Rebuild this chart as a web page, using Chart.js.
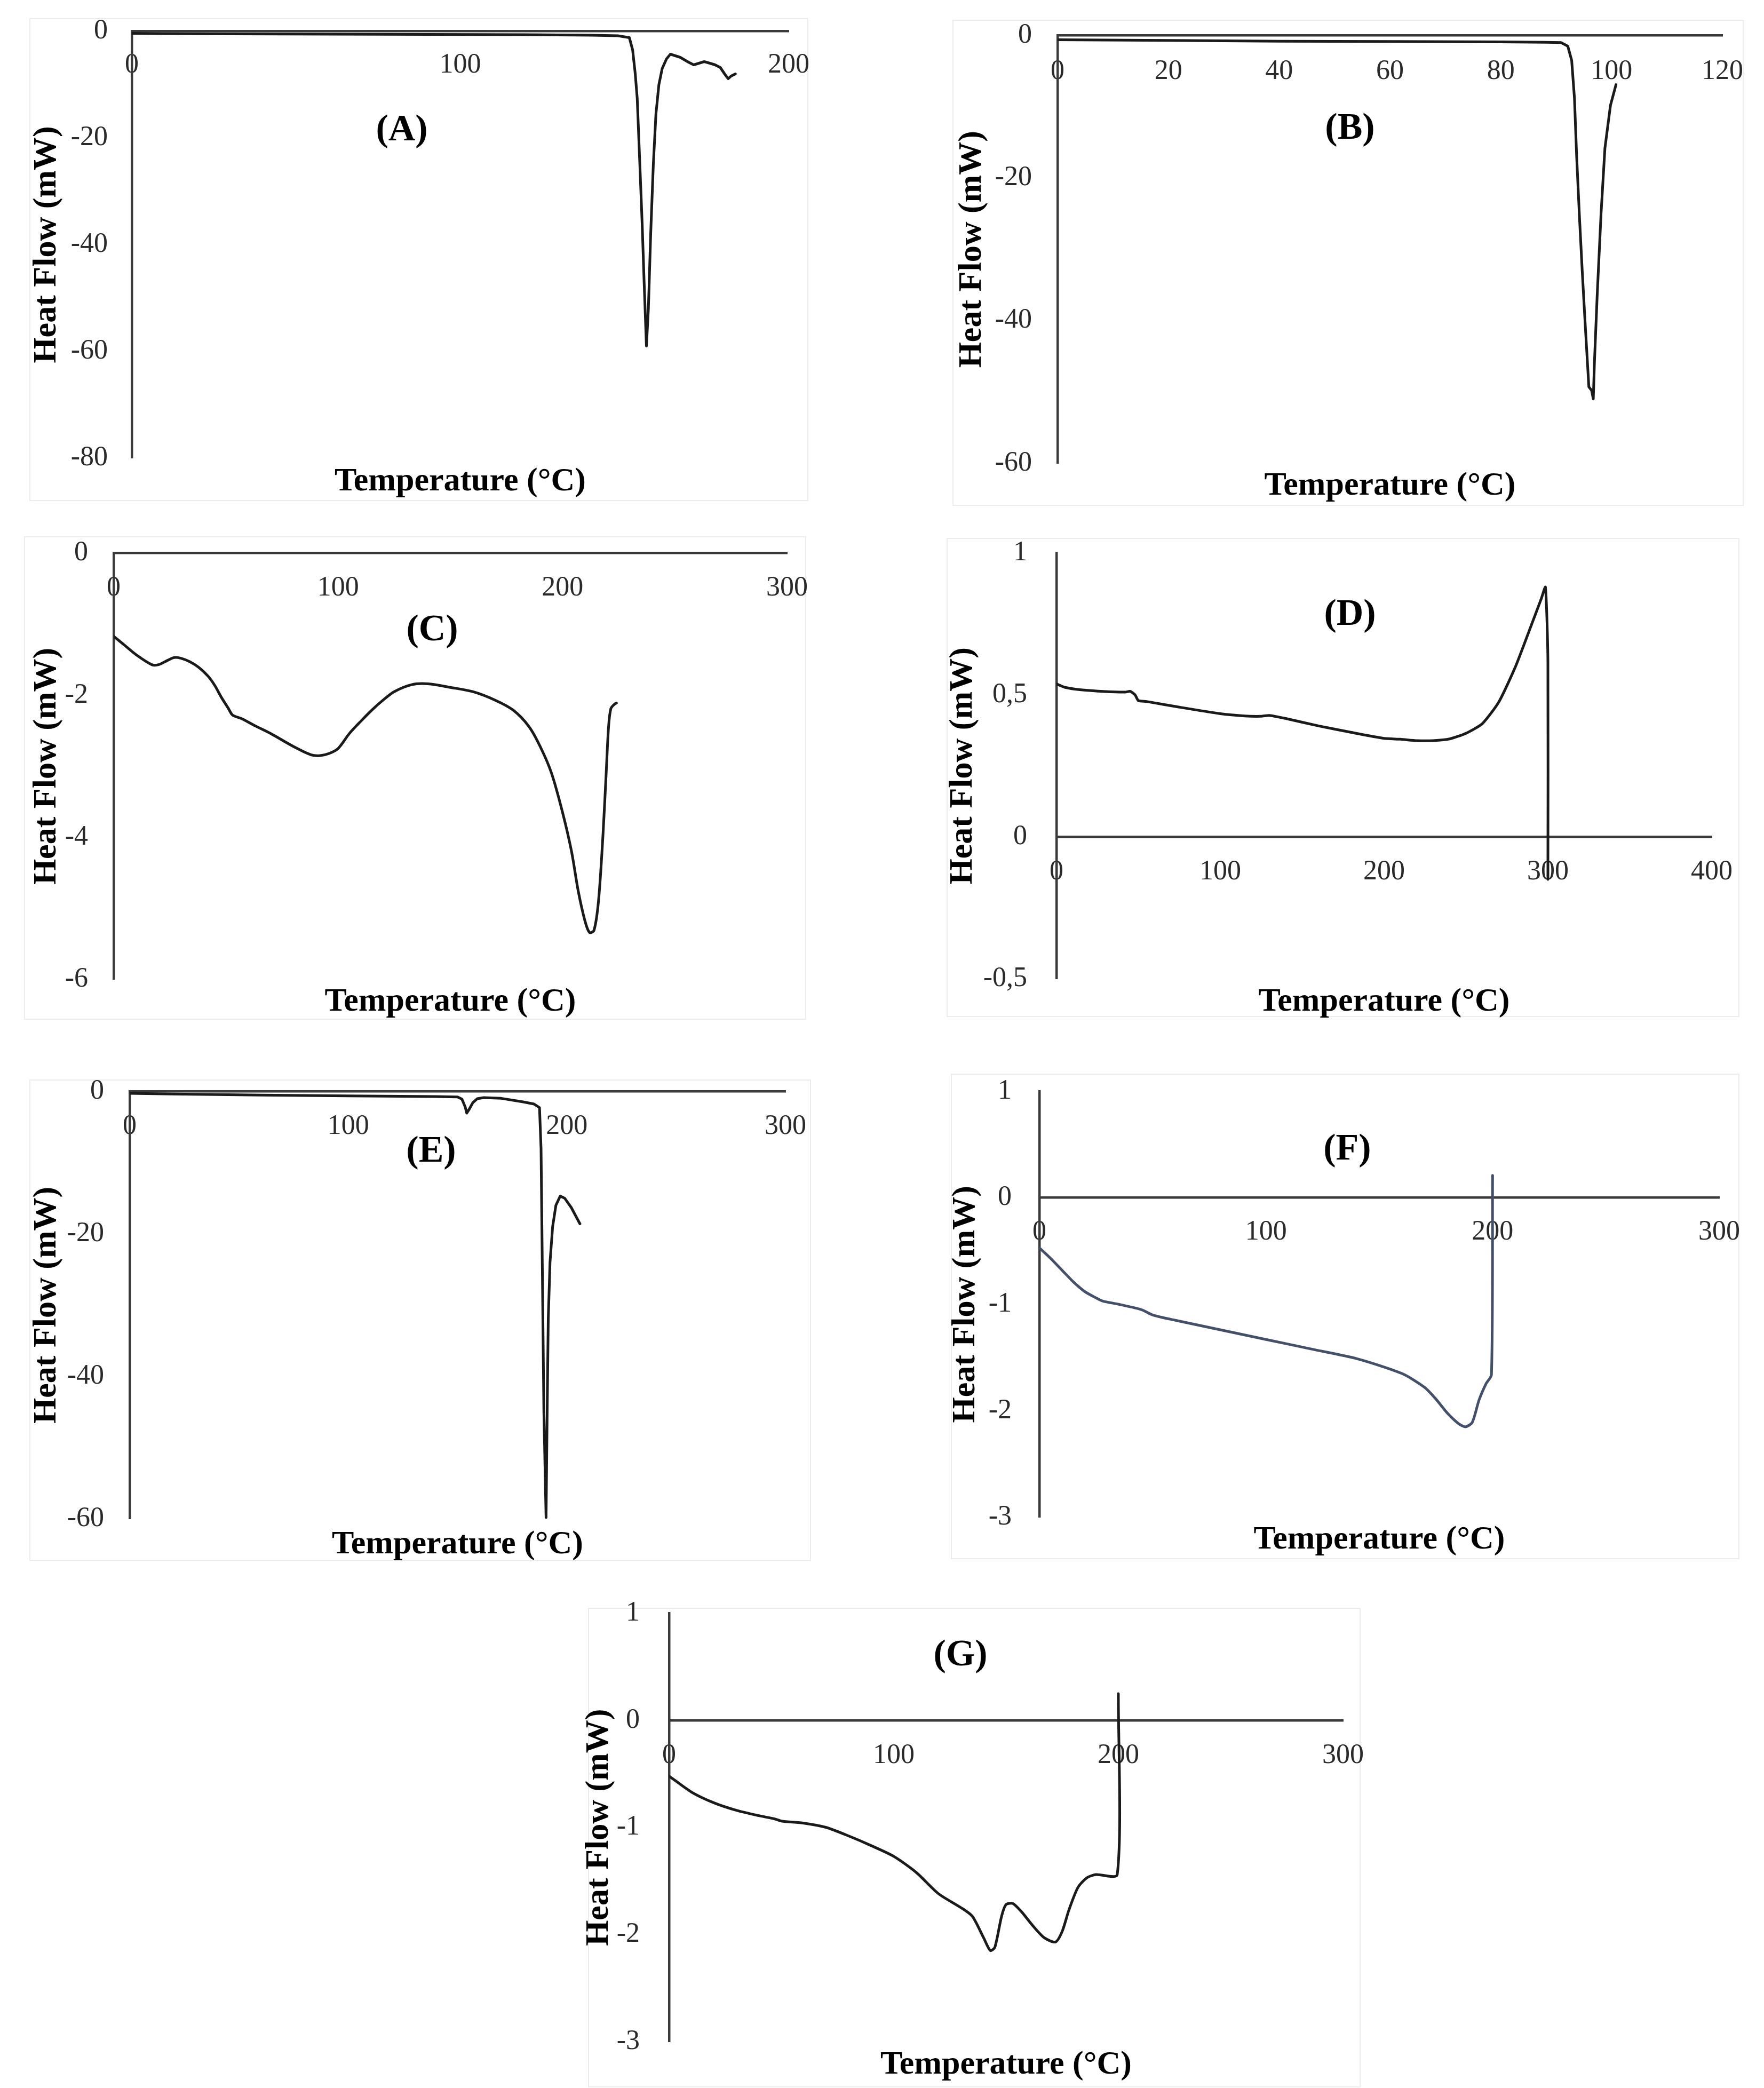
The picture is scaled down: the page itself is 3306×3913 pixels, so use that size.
<!DOCTYPE html>
<html><head><meta charset="utf-8">
<script src="https://cdn.jsdelivr.net/npm/chart.js@4.4.0/dist/chart.umd.min.js"></script>
<style>
html,body{margin:0;padding:0;background:#fff;width:3306px;height:3913px;overflow:hidden;position:relative;}
.box{position:absolute;border:2px solid #ececec;box-sizing:border-box;}
canvas{position:absolute;}
.lab{position:absolute;font-family:"Liberation Serif",serif;font-weight:bold;font-size:70px;line-height:1;transform:translate(-50%,-50%);white-space:nowrap;color:#000;}
</style></head><body>
<script>
// ---------- DATA (Temperature °C / Heat Flow mW) ----------
const tempA = [0, 10, 30, 60, 90, 120, 140, 148, 151.5, 152.5, 153.3, 153.9, 154.7, 155.4, 156, 156.7, 157.3, 158, 158.8, 159.6, 160.5, 161.5, 162.8, 164, 167, 169.5, 171.1, 172.7, 174.3, 176, 177.6, 179.2, 180.5, 181.6, 182.5, 183.8];
const heatA = [-0.4, -0.45, -0.5, -0.55, -0.6, -0.65, -0.75, -0.85, -1.2, -3.5, -8, -12.6, -25, -36, -47, -59, -52, -38, -25, -15.5, -10, -7, -5.2, -4.3, -4.9, -5.8, -6.3, -6.0, -5.7, -6.0, -6.3, -6.8, -8.0, -8.9, -8.4, -8.0];

const tempB = [0, 20, 40, 60, 80, 88, 90.9, 92.1, 92.8, 93.3, 93.7, 94.2, 94.7, 95.2, 95.9, 96.4, 96.7, 96.9, 97.4, 98.1, 98.8, 99.8, 100.8];
const heatB = [-0.6, -0.7, -0.8, -0.85, -0.9, -0.95, -1.0, -1.5, -3.5, -8.8, -17, -25.4, -33, -40, -49.3, -49.8, -51, -46, -36.5, -25, -15.8, -9.8, -6.9];

const tempC = [0, 5, 10, 17, 20, 24, 27, 30, 34, 38, 42, 45, 48, 51, 53, 57, 63, 70, 80, 88, 92, 96, 100, 105, 110, 115, 120, 125, 133, 140, 150, 160, 170, 178, 185, 190, 195, 200, 204, 207, 210, 212, 214, 216, 218, 219.5, 220.5, 221.5, 223, 224];
const heatC = [-1.17, -1.3, -1.43, -1.57, -1.57, -1.51, -1.47, -1.48, -1.53, -1.61, -1.73, -1.86, -2.03, -2.18, -2.28, -2.33, -2.43, -2.54, -2.72, -2.84, -2.85, -2.82, -2.75, -2.54, -2.37, -2.21, -2.07, -1.95, -1.85, -1.84, -1.89, -1.95, -2.07, -2.21, -2.44, -2.72, -3.09, -3.65, -4.2, -4.76, -5.18, -5.34, -5.31, -4.9, -3.97, -3.05, -2.44, -2.19, -2.13, -2.11];

const tempD = [0, 5, 15, 30, 42, 45, 48, 50, 55, 75, 100, 115, 125, 130, 140, 160, 180, 200, 210, 220, 230, 240, 250, 260, 270, 280, 290, 296, 298.5, 300, 300];
const heatD = [0.539, 0.527, 0.518, 0.512, 0.51, 0.513, 0.5, 0.48, 0.477, 0.457, 0.434, 0.426, 0.425, 0.428, 0.417, 0.391, 0.368, 0.347, 0.344, 0.339, 0.339, 0.345, 0.365, 0.399, 0.475, 0.597, 0.748, 0.84, 0.88, 0.62, -0.15];

const tempE = [0, 20, 60, 100, 140, 150, 152, 153.5, 154.2, 155.2, 157, 159, 162, 170, 180, 185, 187.5, 188.2, 188.8, 189.5, 190.5, 191, 191.5, 192.3, 193.5, 195, 197, 199, 202, 206];
const heatE = [-0.3, -0.4, -0.55, -0.65, -0.75, -0.8, -1.1, -2.2, -3.07, -2.6, -1.6, -1.05, -0.9, -1.0, -1.5, -1.8, -2.3, -8, -25, -45, -59.8, -45, -32, -24, -19, -16, -14.7, -15, -16.3, -18.6];

const tempF = [0, 5, 10, 15, 20, 25, 28, 35, 45, 50, 60, 80, 100, 120, 140, 160, 170, 175, 180, 185, 188, 191, 194, 197, 199.5, 200];
const heatF = [-0.47, -0.57, -0.68, -0.79, -0.88, -0.94, -0.97, -1.0, -1.05, -1.1, -1.15, -1.24, -1.33, -1.42, -1.51, -1.65, -1.78, -1.89, -2.02, -2.12, -2.15, -2.11, -1.9, -1.75, -1.66, 0.21];

const tempG = [0, 10, 20, 30, 40, 47, 50, 60, 70, 80, 90, 100, 110, 120, 130, 135, 140, 143, 145, 148, 150, 153, 157, 162, 167, 172, 175, 178, 182, 186, 190, 199.5, 200];
const heatG = [-0.52, -0.67, -0.77, -0.84, -0.89, -0.92, -0.94, -0.96, -1.0, -1.08, -1.17, -1.27, -1.42, -1.62, -1.75, -1.83, -2.03, -2.15, -2.12, -1.83, -1.72, -1.71, -1.79, -1.92, -2.03, -2.07, -1.97, -1.77, -1.56, -1.47, -1.44, -1.44, 0.25];

// axis ranges / tick steps
const xRanges = {A:[0,200,100], B:[0,120,20], C:[0,300,100], D:[0,400,100], E:[0,300,100], F:[0,300,100], G:[0,300,100]};
const yRanges = {A:[-80,0,20], B:[-60,0,20], C:[-6,0,2], D:[-0.5,1,0.5], E:[-60,0,20], F:[-3,1,1], G:[-3,1,1]};
const panelLabels = ['(A)','(B)','(C)','(D)','(E)','(F)','(G)'];
const xTitle = 'Temperature (°C)';
const yTitle = 'Heat Flow (mW)';

// ---------- LAYOUT (page pixels) ----------
const layouts = {
  A:{box:[55,34,1515,939],   plot:[247,1478,58.5,858.5],   yTitleX:88,   xTitleY:903,  lab:[753,240],   yPad:45, xPad:33, color:'#1a1a1a', tension:0},
  B:{box:[1785,37,3268,948], plot:[1982,3228,66.5,868],    yTitleX:1822, xTitleY:911,  lab:[2530,237],  yPad:48, xPad:37, color:'#1a1a1a', tension:0},
  C:{box:[45,1005,1511,1911],plot:[213,1475,1036.6,1835.4],yTitleX:88,   xTitleY:1878, lab:[810,1177],  yPad:48, xPad:35, color:'#1a1a1a', tension:0.3},
  D:{box:[1774,1008,3260,1906],plot:[1980,3208,1036.6,1834],yTitleX:1805,xTitleY:1878, lab:[2530,1148], yPad:55, xPad:35, color:'#1a1a1a', tension:0.2},
  E:{box:[55,2023,1520,2925],plot:[243,1472,2045,2846.7],  yTitleX:88,   xTitleY:2895, lab:[808,2154],  yPad:48, xPad:35, color:'#1a1a1a', tension:0},
  F:{box:[1782,2012,3260,2922],plot:[1948,3222,2045,2843.6],yTitleX:1810,xTitleY:2886, lab:[2525,2150], yPad:52, xPad:33, color:'#44506a', tension:0.25},
  G:{box:[1102,3013,2550,3912],plot:[1254,2517,3023.5,3826],yTitleX:1123,xTitleY:3870, lab:[1800,3098], yPad:55, xPad:35, color:'#1a1a1a', tension:0.25}
};
const series = {A:[tempA,heatA], B:[tempB,heatB], C:[tempC,heatC], D:[tempD,heatD], E:[tempE,heatE], F:[tempF,heatF], G:[tempG,heatG]};

const FONT = 'Liberation Serif';
const TICK_SIZE = 52, TITLE_SIZE = 62;
const AXIS_COLOR = '#3a3a3a', TICK_COLOR = '#2a2a2a';
const fmt = v => String(Math.round(v*1000)/1000).replace('.', ',');

['A','B','C','D','E','F','G'].forEach((k, idx) => {
  const p = layouts[k];
  const [xs, ys] = series[k];
  const box = document.createElement('div');
  box.className = 'box';
  box.style.left = p.box[0]+'px'; box.style.top = p.box[1]+'px';
  box.style.width = (p.box[2]-p.box[0])+'px'; box.style.height = (p.box[3]-p.box[1])+'px';
  document.body.appendChild(box);

  const M = 160;
  const cl = p.box[0]-M, ct = p.box[1]-M;
  const cw = p.box[2]-p.box[0]+2*M, ch = p.box[3]-p.box[1]+2*M;
  const cv = document.createElement('canvas');
  cv.width = cw; cv.height = ch;
  cv.style.left = cl+'px'; cv.style.top = ct+'px';
  cv.style.width = cw+'px'; cv.style.height = ch+'px';
  document.body.appendChild(cv);

  const lhT = TITLE_SIZE*1.2;
  const padLeft = p.yTitleX - cl - lhT/2;
  const yW = (p.plot[0]-cl) - padLeft;
  const padRight = cw - (p.plot[1]-cl);
  const padTop = p.plot[2]-ct;
  const padBottom = ch - (p.xTitleY-ct) - lhT/2;
  const h2 = ch - padBottom - (p.plot[3]-ct);

  const [x0,x1,xs0] = xRanges[k];
  const [y0,y1,ys0] = yRanges[k];

  new Chart(cv, {
    type:'scatter',
    data:{datasets:[{
      data: xs.map((v,i)=>({x:v, y:ys[i]})),
      showLine:true, borderColor:p.color, backgroundColor:p.color,
      borderWidth:5, pointRadius:0, tension:p.tension, fill:false,
      borderJoinStyle:'round', borderCapStyle:'round'
    }]},
    options:{
      responsive:false, animation:false, devicePixelRatio:1,
      layout:{padding:{left:padLeft, right:padRight, top:padTop, bottom:padBottom}},
      plugins:{legend:{display:false}, tooltip:{enabled:false}},
      scales:{
        x:{type:'linear', min:x0, max:x1, position:{y:0},
           grid:{display:false, drawTicks:false},
           border:{display:true, color:AXIS_COLOR, width:4.5},
           ticks:{stepSize:xs0, autoSkip:false, maxRotation:0, minRotation:0, padding:p.xPad,
                  color:TICK_COLOR, font:{family:FONT, size:TICK_SIZE}, callback:fmt}},
        y:{type:'linear', min:y0, max:y1, position:'left',
           grid:{display:false, drawTicks:false},
           border:{display:true, color:AXIS_COLOR, width:4.5},
           ticks:{stepSize:ys0, padding:p.yPad, color:TICK_COLOR,
                  font:{family:FONT, size:TICK_SIZE}, callback:fmt},
           title:{display:true, text:yTitle, color:'#000', padding:0,
                  font:{family:FONT, size:TITLE_SIZE, weight:'bold'}},
           afterFit(s){ s.width = yW; }},
        x2:{type:'linear', position:'bottom', min:0, max:1, display:true,
            grid:{display:false, drawTicks:false}, border:{display:false},
            ticks:{display:false},
            title:{display:true, text:xTitle, color:'#000', padding:0,
                   font:{family:FONT, size:TITLE_SIZE, weight:'bold'}},
            afterFit(s){ s.height = h2; }}
      }
    }
  });

  const lab = document.createElement('div');
  lab.className = 'lab';
  lab.textContent = panelLabels[idx];
  lab.style.left = p.lab[0]+'px'; lab.style.top = p.lab[1]+'px';
  document.body.appendChild(lab);
});
</script>
</body></html>
